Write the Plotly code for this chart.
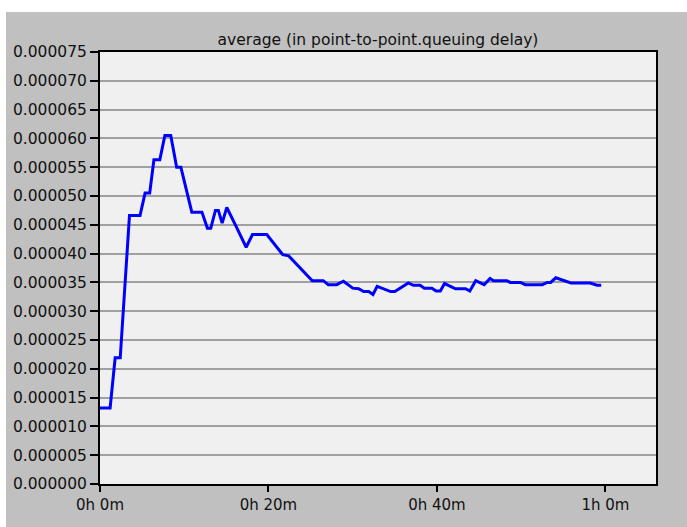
import plotly.graph_objects as go

# Time in minutes
time_min = [0, 1.2, 1.8, 2.4, 3.5, 4.75, 5.35, 5.9, 6.4, 7.1, 7.7, 8.4, 9.1, 9.6,
            10.9, 12.1, 12.75, 13.15, 13.7, 14.05, 14.5, 15.05, 16.2, 17.35, 18.1,
            19.8, 21.7, 22.4, 25.2, 26.5, 27.1, 28.1, 28.9, 30.0, 30.7, 31.3, 31.9,
            32.4, 32.9, 34.5, 35.0, 36.6, 37.2, 38.0, 38.5, 39.4, 39.9, 40.4, 40.9,
            42.2, 43.4, 43.9, 44.6, 45.6, 46.3, 46.7, 48.3, 48.7, 49.9, 50.5, 52.5,
            53.1, 53.5, 54.1, 55.9, 58.2, 59.0, 59.5]
# Average queuing delay (seconds)
delay_s = [13.2e-6, 13.2e-6, 21.9e-6, 21.9e-6, 46.6e-6, 46.6e-6, 50.5e-6, 50.5e-6,
           56.3e-6, 56.3e-6, 60.5e-6, 60.5e-6, 55.0e-6, 55.0e-6, 47.2e-6, 47.2e-6,
           44.4e-6, 44.4e-6, 47.5e-6, 47.5e-6, 45.3e-6, 48.0e-6, 44.6e-6, 41.1e-6,
           43.3e-6, 43.3e-6, 39.8e-6, 39.6e-6, 35.3e-6, 35.3e-6, 34.6e-6, 34.6e-6,
           35.2e-6, 34.0e-6, 33.9e-6, 33.4e-6, 33.4e-6, 32.9e-6, 34.3e-6, 33.4e-6,
           33.4e-6, 34.9e-6, 34.5e-6, 34.5e-6, 34.0e-6, 34.0e-6, 33.5e-6, 33.5e-6,
           34.8e-6, 33.9e-6, 33.9e-6, 33.5e-6, 35.3e-6, 34.6e-6, 35.7e-6, 35.3e-6,
           35.3e-6, 35.0e-6, 35.0e-6, 34.6e-6, 34.6e-6, 35.0e-6, 35.0e-6, 35.8e-6,
           34.9e-6, 34.9e-6, 34.5e-6, 34.5e-6]

x_tick_vals = [0, 20, 40, 60]
x_tick_text = ["0h 0m", "0h 20m", "0h 40m", "1h 0m"]
title_text = "average (in point-to-point.queuing delay)"

FONT = "DejaVu Sans"

fig = go.Figure()
fig.add_trace(go.Scatter(x=time_min, y=delay_s, mode="lines",
                         line=dict(color="#0000ff", width=3), showlegend=False))

L, R, T, B = 100, 31, 52, 43
W, H = 687, 527
pw, ph = W - L - R, H - T - B

def px_x(px):
    return (px - L) / pw

def px_y(py):
    return (H - B - py) / ph

fig.update_layout(
    width=W, height=H,
    margin=dict(l=L, r=R, t=T, b=B),
    paper_bgcolor="#c0c0c0",
    plot_bgcolor="#f0f0f0",
    font=dict(family=FONT, size=15, color="#111111"),
    title=dict(text=title_text, x=px_x(378), xref="paper", xanchor="center",
               y=1 - 40 / H, yref="container", yanchor="middle",
               font=dict(family=FONT, size=15.5, color="#111111")),
    xaxis=dict(range=[0, 66], tickvals=x_tick_vals, ticktext=x_tick_text,
               showgrid=False, zeroline=False, ticks="outside", ticklen=6,
               tickwidth=1.5, tickcolor="#000000", showline=True, linecolor="#000000",
               linewidth=2, mirror=True, tickfont=dict(family=FONT, size=15)),
    yaxis=dict(range=[0, 75e-6], dtick=5e-6, tick0=0, tickformat=".6f",
               showgrid=True, gridcolor="#a0a0a0", gridwidth=2, zeroline=False,
               ticks="outside", ticklen=8, tickwidth=1.5, tickcolor="#000000",
               showline=True, linecolor="#000000", linewidth=2, mirror=True,
               tickfont=dict(family=FONT, size=15.5)),
    shapes=[
        dict(type="rect", xref="paper", yref="paper",
             x0=px_x(-5), x1=px_x(W + 5), y0=px_y(12), y1=px_y(-5),
             fillcolor="#ffffff", line=dict(width=0), layer="above"),
        dict(type="rect", xref="paper", yref="paper",
             x0=px_x(-5), x1=px_x(6), y0=px_y(H + 5), y1=px_y(-5),
             fillcolor="#ffffff", line=dict(width=0), layer="above"),
    ],
)

fig.write_html("out.html",
               config={"displayModeBar": False},
               post_script="document.body.style.margin='0';document.body.style.overflow='hidden';")
